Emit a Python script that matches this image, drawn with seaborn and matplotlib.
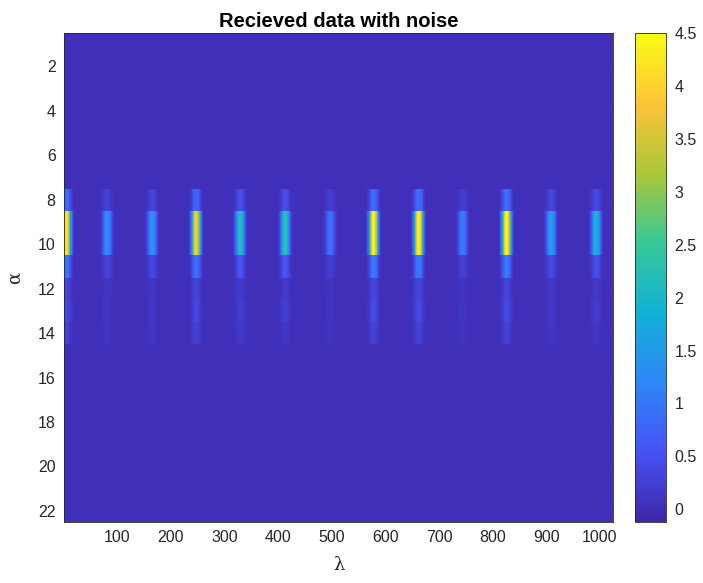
import numpy as np
import pandas as pd
import matplotlib
matplotlib.use("Agg")
import matplotlib.pyplot as plt
from matplotlib.colors import LinearSegmentedColormap
import seaborn as sns

# Grid size: wavelength index (columns) by angle index (rows)
n_lambda = 1024
n_alpha = 22

# Pulse positions along lambda and their peak amplitudes
pulse_lambda = [5, 81, 165, 247, 329, 413, 497, 578, 662, 744, 826, 909, 993]
pulse_peak = [4.2, 1.3, 1.4, 3.9, 2.2, 2.3, 0.9, 4.4, 4.4, 1.05, 4.45, 1.6, 1.95]

# Angle rows that carry energy and their relative gain
alpha_rows = [8, 9, 10, 11, 12, 13, 14]
alpha_gain = [0.2, 1.0, 1.0, 0.24, 0.07, 0.09, 0.06]

# Shape of each pulse across neighbouring lambda bins (offset -13 .. +13)
lambda_shape = [0.04, 0.08, 0.13, 0.2, 0.28, 0.38, 0.49, 0.61, 0.72, 0.82, 0.9, 0.96, 0.99, 1.0,
                0.99, 0.96, 0.9, 0.82, 0.72, 0.61, 0.49, 0.38, 0.28, 0.2, 0.13, 0.08, 0.04]

background_level = 0.03
color_min, color_max = -0.12, 4.5

x_ticks = [100, 200, 300, 400, 500, 600, 700, 800, 900, 1000]
y_ticks = [2, 4, 6, 8, 10, 12, 14, 16, 18, 20, 22]
cbar_ticks = [0, 0.5, 1, 1.5, 2, 2.5, 3, 3.5, 4, 4.5]

# Build the received-signal matrix
signal = np.full((n_alpha, n_lambda), background_level)
half = len(lambda_shape) // 2
for center, peak in zip(pulse_lambda, pulse_peak):
    for k, s in enumerate(lambda_shape):
        col = center + k - half
        if 1 <= col <= n_lambda:
            for row, g in zip(alpha_rows, alpha_gain):
                signal[row - 1, col - 1] += peak * s * g

frame = pd.DataFrame(signal, index=np.arange(1, n_alpha + 1), columns=np.arange(1, n_lambda + 1))

# MATLAB-like parula colormap
parula_anchors = [
    (0.2422, 0.1504, 0.6603),
    (0.2810, 0.3228, 0.9579),
    (0.1786, 0.5289, 0.9682),
    (0.0689, 0.6948, 0.8394),
    (0.2161, 0.7843, 0.5923),
    (0.6720, 0.7793, 0.2227),
    (0.9970, 0.7659, 0.2199),
    (0.9769, 0.9839, 0.0805),
]
parula = LinearSegmentedColormap.from_list("parula", parula_anchors, N=256)

sns.set_style("white")
plt.rcParams["font.family"] = ["Liberation Sans", "DejaVu Sans"]

ink = "#262626"
fig = plt.figure(figsize=(7.03, 5.83), dpi=100)
ax = fig.add_axes([64 / 703, 1 - 522 / 583, (613 - 64) / 703, (522 - 33) / 583])
cax = fig.add_axes([635 / 703, 1 - 522 / 583, 31 / 703, (522 - 33) / 583])

sns.heatmap(frame, ax=ax, cbar_ax=cax, cmap=parula, vmin=color_min, vmax=color_max,
            xticklabels=False, yticklabels=False, linewidths=0, rasterized=True,
            cbar_kws={"ticks": cbar_ticks})

ax.set_xticks([v - 0.5 for v in x_ticks])
ax.set_xticklabels([str(v) for v in x_ticks], rotation=0)
ax.set_yticks([v - 0.5 for v in y_ticks])
ax.set_yticklabels([str(v) for v in y_ticks], rotation=0)
ax.tick_params(axis="both", direction="in", length=4, width=0.6, colors=ink,
               labelsize=11.5, top=True, right=True, pad=6)
ax.tick_params(axis="both", labelcolor=ink)
for spine in ax.spines.values():
    spine.set_visible(True)
    spine.set_color(ink)
    spine.set_linewidth(0.6)

ax.set_xlabel("λ", fontsize=13, color=ink, family=["DejaVu Serif"], labelpad=8)
ax.set_ylabel("α", fontsize=13, color=ink, family=["DejaVu Serif"], labelpad=10)
ax.set_title("Recieved data with noise", fontsize=14.5, fontweight="bold", color="black", pad=4)

cbar = ax.collections[0].colorbar
cbar.set_ticklabels(["0", "0.5", "1", "1.5", "2", "2.5", "3", "3.5", "4", "4.5"])
cbar.ax.tick_params(labelsize=11.5, colors=ink, direction="in", length=4, width=0.6, pad=6)
cbar.outline.set_visible(True)
cbar.outline.set_edgecolor(ink)
cbar.outline.set_linewidth(0.6)

fig.savefig("out.png", dpi=100, facecolor="white")
